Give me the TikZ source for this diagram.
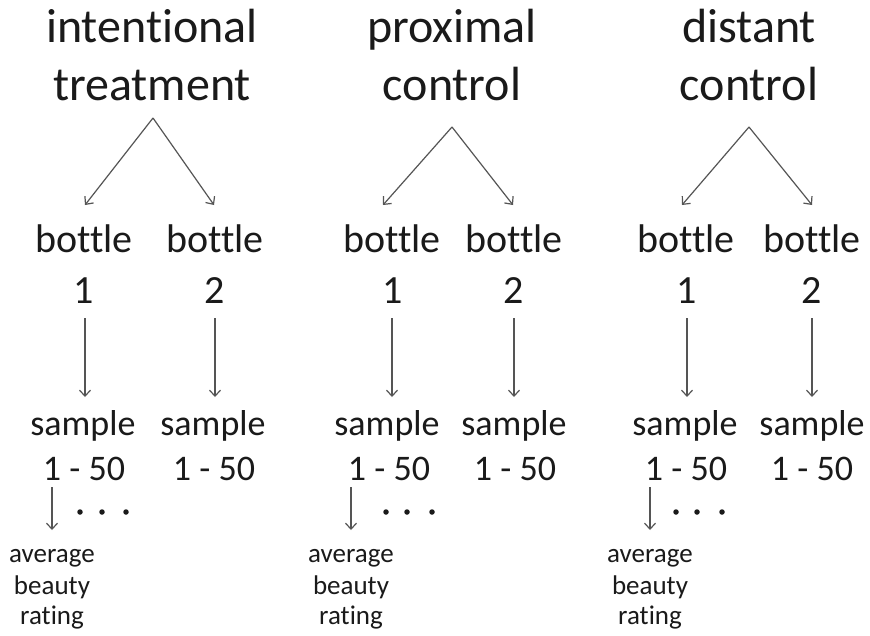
\documentclass[tikz,border=0pt]{standalone}
\usepackage{fontspec}
\setmainfont{Carlito}[Ligatures={NoCommon,NoRare,NoContextual}]
\usetikzlibrary{arrows.meta}
\definecolor{textc}{HTML}{1A1A1A}
\definecolor{arrc}{HTML}{555555}
\begin{document}
\begin{tikzpicture}[x=1pt,y=-1pt,
  txt/.style={inner sep=0pt, anchor=base, text=textc},
  ttl/.style={txt, font=\fontsize{48}{58}\selectfont},
  big/.style={txt, font=\fontsize{40}{48}\selectfont},
  smp/.style={txt, font=\fontsize{36}{44}\selectfont},
  sml/.style={txt, font=\fontsize{27}{31}\selectfont},
  dotc/.style={circle, fill=textc, inner sep=0pt, minimum size=5.5pt},
  arr/.style={draw=arrc, line width=1.2pt, -{Straight Barb[length=6pt,width=11pt]}}]
\useasboundingbox[fill=white] (0,0) rectangle (870,635);

% ---------- column 1 ----------
\node[ttl] (t11) at (152,42) {intentional};
\node[ttl] (t12) at (152,100) {treatment};
\coordinate (p1) at (153,118);
\node[big] (b11) at (84,252) {bottle};
\node[big] (b12) at (215,252) {bottle};
\node[big] (n11) at (84,303) {1};
\node[big] (n12) at (215,303) {2};
\node[smp] (s11) at (83,435) {sample};
\node[smp] (s12) at (213,435) {sample};
\node[smp] (r11) at (84,480) {1 - 50};
\node[smp] (r12) at (214,480) {1 - 50};
\node[dotc] (d11) at (80,512) {};
\node[dotc] (d12) at (102,512) {};
\node[dotc] (d13) at (126,512) {};
\node[sml] (a11) at (52,562) {average};
\node[sml] (a12) at (52,594) {beauty};
\node[sml] (a13) at (52,624) {rating};
\draw[arr] (p1) -- ([xshift=1pt,yshift=47pt]b11.base);
\draw[arr] (p1) -- ([xshift=-1pt,yshift=47pt]b12.base);
\draw[arr] ([xshift=1pt,yshift=-15pt]n11.base) -- ([xshift=2pt,yshift=38pt]s11.base);
\draw[arr] ([yshift=-15pt]n12.base) -- ([xshift=2pt,yshift=38pt]s12.base);
\draw[arr] ([xshift=-32pt,yshift=-7pt]r11.base) -- ([yshift=32pt]a11.base);

% ---------- column 2 ----------
\node[ttl] (t21) at (452,42) {proximal};
\node[ttl] (t22) at (452,100) {control};
\coordinate (p2) at (452,127);
\node[big] (b21) at (392,252) {bottle};
\node[big] (b22) at (514,252) {bottle};
\node[big] (n21) at (393,303) {1};
\node[big] (n22) at (514,303) {2};
\node[smp] (s21) at (387,435) {sample};
\node[smp] (s22) at (514,435) {sample};
\node[smp] (r21) at (389,480) {1 - 50};
\node[smp] (r22) at (515,480) {1 - 50};
\node[dotc] (d21) at (386,512) {};
\node[dotc] (d22) at (407,512) {};
\node[dotc] (d23) at (432,512) {};
\node[sml] (a21) at (351,562) {average};
\node[sml] (a22) at (351,594) {beauty};
\node[sml] (a23) at (351,624) {rating};
\draw[arr] (p2) -- ([xshift=-9pt,yshift=47pt]b21.base);
\draw[arr] (p2) -- ([xshift=-1pt,yshift=47pt]b22.base);
\draw[arr] ([xshift=-1pt,yshift=-15pt]n21.base) -- ([xshift=5pt,yshift=38pt]s21.base);
\draw[arr] ([yshift=-15pt]n22.base) -- ([yshift=38pt]s22.base);
\draw[arr] ([xshift=-38pt,yshift=-7pt]r21.base) -- ([yshift=32pt]a21.base);

% ---------- column 3 ----------
\node[ttl] (t31) at (749,42) {distant};
\node[ttl] (t32) at (749,100) {control};
\coordinate (p3) at (749,127);
\node[big] (b31) at (686,252) {bottle};
\node[big] (b32) at (812,252) {bottle};
\node[big] (n31) at (687,303) {1};
\node[big] (n32) at (812,303) {2};
\node[smp] (s31) at (685,435) {sample};
\node[smp] (s32) at (812,435) {sample};
\node[smp] (r31) at (686,480) {1 - 50};
\node[smp] (r32) at (812,480) {1 - 50};
\node[dotc] (d31) at (676,512) {};
\node[dotc] (d32) at (697,512) {};
\node[dotc] (d33) at (722,512) {};
\node[sml] (a31) at (650,562) {average};
\node[sml] (a32) at (650,594) {beauty};
\node[sml] (a33) at (650,624) {rating};
\draw[arr] (p3) -- ([xshift=-4pt,yshift=47pt]b31.base);
\draw[arr] (p3) -- ([yshift=47pt]b32.base);
\draw[arr] ([yshift=-15pt]n31.base) -- ([xshift=2pt,yshift=38pt]s31.base);
\draw[arr] ([yshift=-15pt]n32.base) -- ([yshift=38pt]s32.base);
\draw[arr] ([xshift=-36pt,yshift=-7pt]r31.base) -- ([yshift=32pt]a31.base);
\end{tikzpicture}
\end{document}
